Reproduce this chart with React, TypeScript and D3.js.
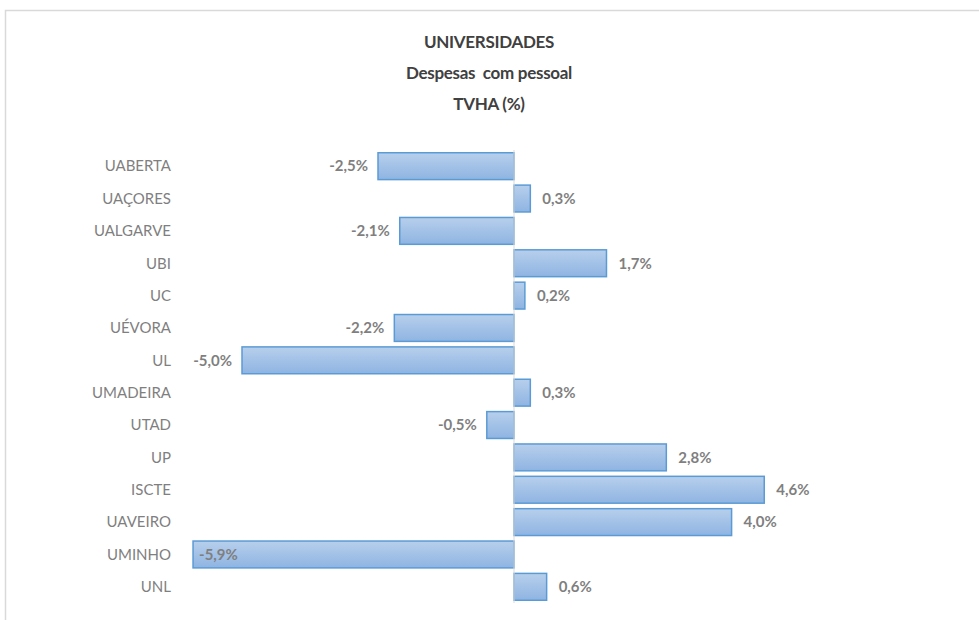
import React from 'react';
import * as d3 from 'd3';

// categories and values
const categories = ['UABERTA', 'UAÇORES', 'UALGARVE', 'UBI', 'UC', 'UÉVORA', 'UL', 'UMADEIRA', 'UTAD', 'UP', 'ISCTE', 'UAVEIRO', 'UMINHO', 'UNL'];
const values = [-2.5, 0.3, -2.1, 1.7, 0.2, -2.2, -5.0, 0.3, -0.5, 2.8, 4.6, 4.0, -5.9, 0.6];
const titleLines = ['UNIVERSIDADES', 'Despesas  com pessoal', 'TVHA (%)'];

const width = 979;
const height = 620;
const font = 'Lato, "Open Sans", sans-serif';

const x = d3.scaleLinear().domain([-6, 6]).range([187.6, 840.4]);
const y = d3.scaleBand().domain(categories).range([150, 603]).paddingInner(0.17).paddingOuter(0.085);

// portuguese style: comma decimal, plain hyphen minus
const fmt = (v: number) => (v < 0 ? '-' : '') + d3.format('.1f')(Math.abs(v)).replace('.', ',') + '%';

export default function App() {
    const x0 = x(0);
    return (
        <svg width={width} height={height} style={{ position: 'absolute', left: 0, top: 0, background: '#fff' }}>
            <defs>
                <linearGradient id="barFill" x1="0" y1="0" x2="0" y2="1">
                    <stop offset="0" stopColor="#b7cfec" />
                    <stop offset="1" stopColor="#8fb4e2" />
                </linearGradient>
            </defs>
            <rect x={5.5} y={10.5} width={1000} height={700} fill="#fff" stroke="#d9d9d9" strokeWidth={1.5} />

            {titleLines.map((t, i) => (
                <text key={t} x={489} y={48 + i * 31} textAnchor="middle" fontFamily={font}
                    fontWeight="bold" fontSize={17} letterSpacing={-0.3} fill="#404040" style={{ whiteSpace: 'pre' }}>{t}</text>
            ))}

            {categories.map((c, i) => {
                const v = values[i];
                const bx = Math.min(x(v), x0);
                const bw = Math.abs(x(v) - x0);
                const cy = y(c)! + y.bandwidth() / 2;
                let lx = v < 0 ? x(v) - 10 : x(v) + 12;
                let anchor = v < 0 ? 'end' : 'start';
                if (v < 0 && lx - 40 < 190) { lx = x(v) + 6; anchor = 'start'; }
                return (
                    <g key={c}>
                        <text x={171} y={cy} dy="0.35em" textAnchor="end" fontFamily={font}
                            fontSize={15} fill="#7f7f7f">{c}</text>
                        <rect x={bx} y={y(c)} width={bw} height={y.bandwidth()}
                            fill="url(#barFill)" stroke="#5b9bd5" strokeWidth={1.5} />
                        <text x={lx} y={cy} dy="0.35em" textAnchor={anchor} fontFamily={font}
                            fontWeight="bold" fontSize={15} fill="#7f7f7f">{fmt(v)}</text>
                    </g>
                );
            })}

            <line x1={x0} x2={x0} y1={150} y2={603} stroke="#d9d9d9" strokeWidth={1} />
        </svg>
    );
}
